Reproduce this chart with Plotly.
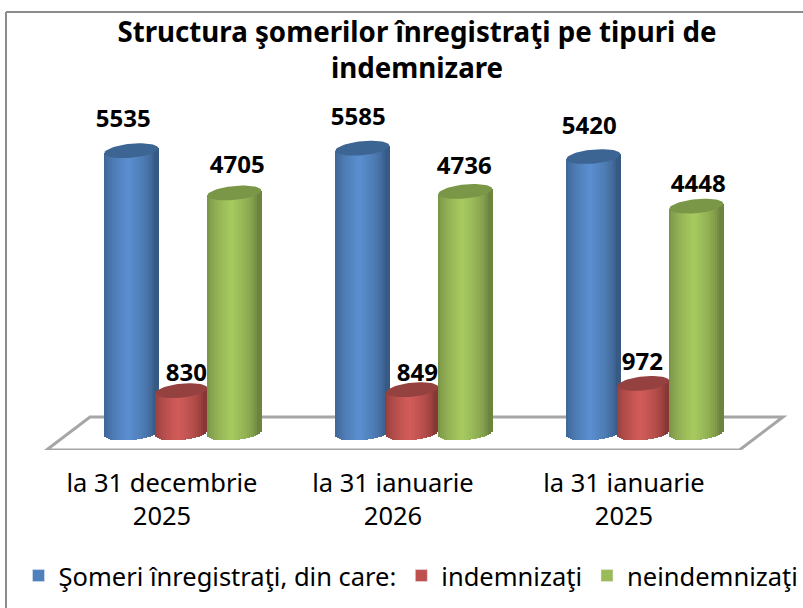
import numpy as np
import plotly.graph_objects as go

categories = ["la 31 decembrie<br>2025", "la 31 ianuarie<br>2026", "la 31 ianuarie<br>2025"]
somers = [5535, 5585, 5420]
indemnizati = [830, 849, 972]
neindemnizati = [4705, 4736, 4448]
series_names = ["Şomeri înregistraţi, din care:", "indemnizaţi", "neindemnizaţi"]
series_vals = [somers, indemnizati, neindemnizati]
legend_colors = ["#4f81bd", "#c0504d", "#9bbb59"]
dark = ["#375a85", "#873836", "#6d8340"]
light = ["#5b8fd0", "#d25c59", "#a8cb60"]
cap = ["#3d6593", "#95413f", "#7a9748"]
title = "Structura şomerilor înregistraţi pe tipuri de<br>indemnizare"
FONT = "Noto Sans"

# geometry
W, H = 803, 608
T, B = 100, 450
X0 = 46.5          # pixel of x = 0
Y0 = 433
SCALE = 0.051
ymin = -(B - Y0) / SCALE
ymax = (Y0 - T) / SCALE
px = 1 / 231
cat_x = np.array([0.5, 1.5, 2.5]) + 0.09
offsets = [-51.5 * px, -1.5 * px, 51.5 * px]
half = [27 * px, 26 * px, 27 * px]
ELL = 7 / SCALE
TILT = 2.5 / SCALE
N = 27


def hex2rgb(h):
    return np.array([int(h[i:i + 2], 16) for i in (1, 3, 5)], float)


def shade(s, u):
    t = np.clip(1 - abs(u + 0.1) / 0.95, 0, 1) ** 0.55
    c = hex2rgb(dark[s]) * (1 - t) + hex2rgb(light[s]) * t
    return "rgb(%d,%d,%d)" % tuple(c)


fig = go.Figure()
for s, vals in enumerate(series_vals):
    vals = np.array(vals, float)
    for i in range(N):
        u = -1 + (2 * i + 1) / N
        w = 2 * half[s] / N
        bot = -ELL * np.sqrt(1 - u * u) + TILT * u
        fig.add_trace(go.Bar(
            x=cat_x + offsets[s] + u * half[s], y=vals + TILT * u - bot, base=[bot] * 3,
            width=w * 1.25, marker=dict(color=shade(s, u), line=dict(width=0)),
            showlegend=False, hoverinfo="skip"))
    # elliptical caps
    th = np.linspace(0, 2 * np.pi, 60)
    for k in range(3):
        fig.add_trace(go.Scatter(
            x=cat_x[k] + offsets[s] + half[s] * np.cos(th),
            y=vals[k] + TILT * np.cos(th) + ELL * np.sin(th),
            mode="lines", fill="toself", fillcolor=cap[s], line=dict(width=0),
            showlegend=False, hoverinfo="skip"))
    # legend entry
    fig.add_trace(go.Bar(x=[None], y=[None], name=series_names[s], marker=dict(color=legend_colors[s])))

# data labels
label_dx = [[-8, -4, -4], [5, 5, -1], [3, -1, 2]]
label_dy = [[30, 29, 29], [16, 15, 19], [26, 23, 20]]
for s, vals in enumerate(series_vals):
    fig.add_trace(go.Scatter(
        x=cat_x + offsets[s] + np.array(label_dx[s]) * px,
        y=np.array(vals, float) + np.array(label_dy[s]) / SCALE,
        mode="text", text=[str(v) for v in vals], textposition="middle center",
        textfont=dict(family=FONT, size=24, color="#000000", weight="bold"),
        showlegend=False, hoverinfo="skip", cliponaxis=False))

fy_back = 16 / SCALE
shapes = [
    dict(type="path", xref="x", yref="y", layer="below",
         path=f"M 0 {ymin} L 3 {ymin} L {3 + 43.5 * px} {fy_back} L {43.5 * px} {fy_back} Z",
         line=dict(color="#a6a6a6", width=3), fillcolor="rgba(0,0,0,0)"),
    dict(type="line", xref="paper", yref="paper", x0=6 / W, x1=1,
         y0=(B - 12) / (B - T), y1=(B - 12) / (B - T), line=dict(color="#8c8c8c", width=2)),
    dict(type="line", xref="paper", yref="paper", x0=6 / W, x1=6 / W,
         y0=(B - 12) / (B - T), y1=(B - H) / (B - T), line=dict(color="#8c8c8c", width=2)),
]

fig.update_layout(
    width=W, height=H, margin=dict(l=0, r=0, t=T, b=H - B, autoexpand=False),
    paper_bgcolor="white", plot_bgcolor="white", barmode="overlay", bargap=0,
    font=dict(family=FONT, color="#000000"),
    title=dict(text=title, x=417 / W, xanchor="center", y=1 - 42 / H, yanchor="middle",
               font=dict(family=FONT, size=27.7, color="#000000", weight="bold")),
    xaxis=dict(range=[-X0 * px, (W - X0) * px], tickmode="array", tickvals=[0.5, 1.5, 2.5], ticktext=categories,
               showgrid=False, zeroline=False, showline=False, ticks="", ticklabelstandoff=15,
               tickangle=0, tickfont=dict(family=FONT, size=25.5, color="#000000")),
    yaxis=dict(range=[ymin, ymax], visible=False),
    legend=dict(orientation="h", x=411 / W, xanchor="center", y=1 - 576 / H, yanchor="middle",
                xref="container", yref="container", font=dict(family=FONT, size=25.5),
                bgcolor="rgba(0,0,0,0)", itemwidth=30, traceorder="normal"),
    shapes=shapes,
)
fig.write_html("out.html", config=dict(displayModeBar=False),
               post_script="document.body.style.margin='0';document.documentElement.style.overflow='hidden';")
